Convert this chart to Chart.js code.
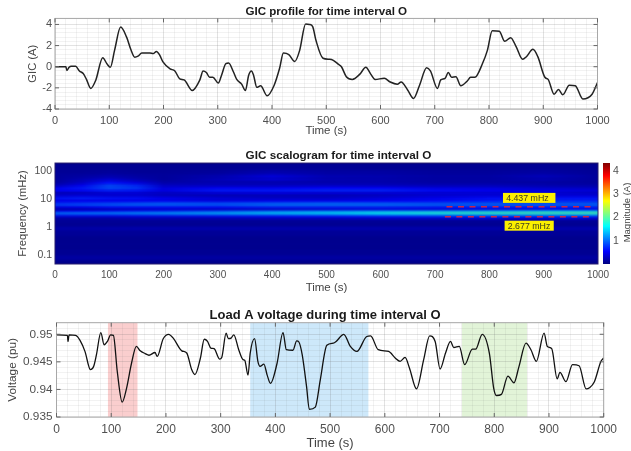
<!DOCTYPE html>
<html><head><meta charset="utf-8">
<style>
html,body{margin:0;padding:0;background:#fff;width:631px;height:451px;overflow:hidden}
canvas{position:absolute;display:block;filter:blur(0.5px)}
</style>
<script src="https://cdn.jsdelivr.net/npm/chart.js@4/dist/chart.umd.js"></script>
</head><body>
<canvas id="gic" width="631" height="140" style="left:0px;top:0px"></canvas>
<canvas id="scal" width="631" height="155" style="left:0px;top:140px"></canvas>
<canvas id="cbar" width="35" height="155" style="left:596px;top:140px"></canvas>
<canvas id="volt" width="631" height="156" style="left:0px;top:295px"></canvas>
<script>
const gicTimes=[0,20,22,26,30,38,45,52,58,66,75,88,96,102,110,121,132,140,147,153,160,175,181,187,193,199,212,221,230,238,253,267,273,279,285,291,301,307,315,320,329,335,344,351,357,362,366,372,379,391,404,414,421,431,442,451,462,469,475,481,494,506,513,522,528,537,548,562,573,582,590,607,618,631,638,650,661,672,685,692,705,711,719,725,731,739,748,760,766,774,788,797,806,819,829,840,850,862,869,881,890,903,909,920,928,936,948,959,973,990,1000];
const gicValues=[0,0,-0.35,-0.05,0.05,0.05,-0.4,-0.65,-1.2,-2.05,-1.3,0.85,0.25,-0.05,1.6,3.75,2.8,1.6,0.9,1.0,1.3,1.3,1.25,1.45,1.1,0.45,-0.2,-0.4,-1.15,-1.25,-2.25,-1.25,-0.4,-0.55,-1.0,-1.0,-1.55,-0.8,0.3,0.35,-0.5,-1.2,-1.65,-2.25,-0.8,-0.4,-0.8,-1.95,-1.8,-2.75,-1.75,-0.15,1.3,1.15,0.5,1.55,4.05,4.0,3.8,2.5,0.8,0.7,0.6,0.25,0,-0.95,-1.2,-0.7,-0.05,-0.7,-1.2,-1.1,-1.45,-1.65,-1.45,-2.2,-3.0,-1.75,-0.1,-0.4,-2.05,-1.25,-1.1,-0.55,-1.0,-0.95,-1.8,-1.35,-1.0,-1.0,0.3,1.55,3.4,3.35,2.4,2.75,1.9,0.7,0.95,1.65,0.95,-1.0,-1.2,-2.6,-2.15,-2.65,-1.75,-1.8,-3.05,-2.6,-1.5];

const voltageTimes=[0,20,21,23,35,43,52,62,68,73,81,87,93,99,104,111,120,128,137,146,153,162,169,180,184,195,205,214,229,238,247,253,263,270,276,282,288,298,302,310,314,319,324,333,341,344,350,354,362,368,372,379,385,391,403,414,420,432,439,443,449,457,462,473,482,494,506,511,525,537,549,567,574,588,607,619,628,637,645,658,671,682,692,701,711,720,726,736,746,760,766,778,791,799,804,813,825,836,845,858,867,877,891,897,905,915,920,931,943,955,968,974,983,995,1000];
const voltageValues=[0.9499,0.9498,0.9487,0.9499,0.9498,0.9489,0.9469,0.9436,0.9442,0.9463,0.9503,0.9481,0.9487,0.9499,0.9498,0.9433,0.9377,0.9402,0.9447,0.9478,0.947,0.9465,0.9462,0.9467,0.946,0.9492,0.95,0.9492,0.947,0.9466,0.9436,0.9427,0.9457,0.9491,0.9487,0.9475,0.9474,0.9455,0.9458,0.9502,0.9492,0.9493,0.9499,0.9472,0.9454,0.9453,0.9426,0.9466,0.9492,0.9451,0.9442,0.9446,0.9426,0.9411,0.9447,0.9503,0.9472,0.9471,0.9488,0.9486,0.9463,0.9405,0.9364,0.9368,0.9417,0.948,0.9484,0.9487,0.95,0.9478,0.9469,0.9496,0.9497,0.9472,0.9469,0.9457,0.9451,0.9458,0.9439,0.9401,0.9454,0.9497,0.9487,0.9437,0.9466,0.9487,0.9476,0.9478,0.9445,0.9473,0.9473,0.95,0.9466,0.9402,0.9389,0.9391,0.9424,0.9412,0.9441,0.9484,0.9472,0.9451,0.9502,0.9478,0.9474,0.9419,0.9431,0.9414,0.9445,0.9443,0.9401,0.9403,0.9414,0.9451,0.9457];

const bandStarts=[94,354,741];
const bandEnds=[148,570,860];
const bandColors=['rgb(250,206,206)','rgb(205,232,250)','rgb(226,244,216)'];

const scalTimes=[0,50,100,150,200,300,400,500,600,700,800,900,1000];
const scalFreqs=[190,130,90,65,50,38,30,25,20,16,13,10.5,8.5,7,6,5,4.2,3.6,3.2,2.9,2.6,2.3,2,1.6,1.2,0.9,0.6,0.35,0.2,0.12,0.08,0.05];
const scalMagnitudes=[
[.05,.05,.06,.06,.05,.06,.08,.08,.06,.06,.06,.08,.05],
[.08,.08,.08,.08,.08,.08,.1,.1,.08,.08,.08,.1,.08],
[.1,.1,.12,.1,.1,.12,.2,.15,.15,.12,.12,.15,.1],
[.12,.15,.2,.15,.12,.2,.38,.22,.2,.15,.15,.25,.12],
[.12,.22,.35,.22,.12,.25,.36,.22,.2,.15,.15,.22,.12],
[.14,.3,.6,.4,.18,.22,.22,.2,.2,.16,.16,.16,.12],
[.25,.5,.85,.7,.3,.28,.28,.3,.28,.25,.25,.2,.18],
[.5,.65,.9,.8,.42,.5,.48,.55,.52,.42,.4,.33,.28],
[.55,.58,.7,.65,.45,.65,.65,.7,.7,.58,.52,.45,.4],
[.25,.28,.38,.38,.3,.38,.42,.38,.38,.38,.38,.38,.3],
[.38,.42,.38,.38,.3,.25,.25,.25,.3,.38,.42,.42,.42],
[.62,.68,.62,.6,.5,.38,.32,.32,.42,.5,.6,.62,.62],
[.5,.5,.5,.5,.5,.42,.48,.48,.52,.58,.65,.7,.7],
[.7,.75,.8,.85,.9,.85,.9,.95,.9,.85,.9,.9,.9],
[.85,.9,.95,1,1,.95,1.05,1.05,1.05,1,1,1,1],
[.45,.5,.6,.6,.6,.6,.7,.7,.7,.65,.7,.7,.7],
[.2,.2,.25,.3,.35,.3,.3,.35,.4,.4,.45,.5,.5],
[.5,.55,.6,.65,.7,.85,1,1.1,1.2,1.25,1.35,1.45,1.45],
[1,1.05,1.1,1.15,1.2,1.3,1.45,1.55,1.7,1.8,1.9,1.95,1.95],
[1.05,1.1,1.1,1.15,1.2,1.3,1.4,1.45,1.6,1.7,1.8,1.85,1.85],
[.7,.7,.7,.75,.8,.85,.9,1,1.1,1.15,1.2,1.25,1.25],
[.35,.35,.35,.4,.4,.45,.5,.55,.6,.65,.7,.7,.7],
[.15,.15,.15,.2,.2,.2,.25,.25,.3,.3,.35,.35,.35],
[.1,.1,.1,.1,.1,.1,.1,.1,.1,.1,.1,.1,.1],
[.08,.08,.08,.08,.08,.08,.08,.08,.08,.08,.08,.08,.08],
[.16,.16,.17,.18,.18,.18,.18,.18,.18,.18,.18,.18,.18],
[.1,.1,.1,.1,.1,.1,.1,.1,.1,.1,.1,.1,.1],
[.06,.06,.06,.06,.06,.06,.06,.06,.06,.06,.06,.06,.06],
[.06,.06,.06,.06,.06,.06,.06,.06,.06,.06,.06,.06,.06],
[.08,.08,.08,.08,.08,.08,.08,.08,.08,.08,.08,.08,.08],
[.14,.14,.14,.14,.14,.14,.14,.14,.14,.14,.14,.14,.14],
[.05,.05,.05,.05,.05,.05,.05,.05,.05,.05,.05,.05,.05]
];
const magnitudeMax=4.33;
const cutoffLabels=['4.437 mHz','2.677 mHz'];

const FONT='"Liberation Sans",Arial,sans-serif';
const TICK='#505050', AXT='#444';
const GRID_MAJOR='rgba(110,110,110,0.2)', GRID_MINOR='rgba(110,110,110,0.09)';
function jet(f){
  f=Math.max(0,Math.min(1,f));
  const c=(a)=>Math.round(255*Math.max(0,Math.min(1,1.5-Math.abs(4*f-a))));
  return `rgb(${c(3)},${c(2)},${c(1)})`;
}
const near=(v,m)=>Math.abs(v/m-Math.round(v/m))<1e-6;

const centerTitle={id:'centerTitle',afterLayout(c,a,o){
  const d=o.shift||0;
  if(c.titleBlock){c.titleBlock.left=c.chartArea.left+d;c.titleBlock.right=c.chartArea.right+d;}
}};
const frame={id:'frame',afterDatasetsDraw(c,a,o){
  if(!o.color)return;
  const {left,right,top,bottom}=c.chartArea,x=c.ctx,sx=c.scales.x,sy=c.scales.y;
  x.save();x.strokeStyle=o.color;x.lineWidth=1;
  x.strokeRect(left+.0,top+.0,right-left,bottom-top);
  x.strokeStyle=o.tick;
  sx.ticks.forEach(t=>{if(near(t.value,100)){const p=sx.getPixelForValue(t.value);
    x.beginPath();x.moveTo(p,bottom);x.lineTo(p,bottom-4);x.moveTo(p,top);x.lineTo(p,top+4);x.stroke();}});
  sy.ticks.forEach(t=>{if(near(t.value,o.ymajor)){const p=sy.getPixelForValue(t.value);
    x.beginPath();x.moveTo(left,p);x.lineTo(left+4,p);x.moveTo(right,p);x.lineTo(right-4,p);x.stroke();}});
  x.restore();
}};
const bandsPlugin={id:'bands',beforeDraw(c,a,o){
  if(!o.starts)return;
  const {top,bottom}=c.chartArea,sx=c.scales.x,x=c.ctx;
  x.save();
  o.starts.forEach((s,i)=>{const p0=sx.getPixelForValue(s),p1=sx.getPixelForValue(o.ends[i]);
    x.fillStyle=o.colors[i];x.fillRect(p0,top,p1-p0,bottom-top);});
  x.restore();
}};
function xAxis(h,font,tickPad,titleFont,titleBottom,grid){
  return {type:'linear',min:0,max:1000,
    ticks:{stepSize:grid?20:100,autoSkip:false,maxRotation:0,padding:tickPad,color:TICK,font:{family:FONT,size:font},
      callback:v=>near(v,100)?String(Math.round(v)):''},
    grid:grid?{drawTicks:false,color:g=>near(g.tick.value,100)?GRID_MAJOR:GRID_MINOR,lineWidth:1}:{display:false,drawTicks:false},
    border:{display:false},
    title:{display:true,text:'Time (s)',color:AXT,font:{family:FONT,size:titleFont},padding:{top:0,bottom:titleBottom}},
    afterFit(s){s.height=h;}};
}

new Chart(document.getElementById('gic'),{
  type:'line',
  data:{datasets:[{data:gicTimes.map((t,i)=>({x:t,y:gicValues[i]})),borderColor:'#222',borderWidth:1.5,pointRadius:0,cubicInterpolationMode:'monotone'}]},
  options:{responsive:false,animation:false,
    layout:{padding:{left:0,right:33.5,top:0,bottom:0}},
    plugins:{legend:{display:false},tooltip:{enabled:false},
      title:{display:true,text:'GIC profile for time interval O',color:'#1a1a1a',font:{family:FONT,size:11.6,weight:'bold'},padding:{top:4.5,bottom:0}},
      frame:{color:'#a8a8a8',tick:'#666',ymajor:2}},
    scales:{x:xAxis(31,11,5,11.5,2,true),
      y:{type:'linear',min:-4,max:4.57,
        ticks:{stepSize:0.4,autoSkip:false,padding:3,color:TICK,font:{family:FONT,size:11},callback:v=>near(v,2)?String(Math.round(v)):''},
        grid:{drawTicks:false,color:g=>near(g.tick.value,2)?GRID_MAJOR:GRID_MINOR},
        border:{display:false},
        title:{display:true,text:'GIC (A)',color:AXT,font:{family:FONT,size:11.2},padding:{top:26,bottom:0}},
        afterFit(s){s.width=55;}}}
  },plugins:[centerTitle,frame]});

const heatPlugin={id:'heat',beforeDatasetsDraw(c){
  const {left,right,top,bottom}=c.chartArea,sx=c.scales.x,sy=c.scales.y,x=c.ctx;
  x.save();x.beginPath();x.rect(left,top,right-left,bottom-top);x.clip();
  x.fillStyle=jet(0.02);x.fillRect(left,top,right-left,bottom-top);
  x.filter='blur(1px)';
  const ys=scalFreqs.map(f=>sy.getPixelForValue(f));
  const span=sx.getPixelForValue(scalTimes[scalTimes.length-1])-sx.getPixelForValue(scalTimes[0]);
  scalFreqs.forEach((f,i)=>{
    const y0=i?(ys[i-1]+ys[i])/2:top-6, y1=i<ys.length-1?(ys[i]+ys[i+1])/2:bottom+6;
    const g=x.createLinearGradient(left,0,right,0);
    scalTimes.forEach((t,j)=>g.addColorStop((sx.getPixelForValue(t)-left)/span,jet(scalMagnitudes[i][j]/magnitudeMax)));
    x.fillStyle=g;x.fillRect(left-6,y0,right-left+12,y1-y0+.6);
  });
  x.filter='none';x.restore();
},afterDatasetsDraw(c){
  const {left,right,top,bottom}=c.chartArea,sx=c.scales.x,sy=c.scales.y,x=c.ctx;
  x.save();
  x.strokeStyle='rgb(40,30,110)';x.lineWidth=1;x.strokeRect(left,top,right-left,bottom-top);
  x.strokeStyle='rgb(205,35,70)';x.lineWidth=1.6;x.setLineDash([6,5.5]);
  [[721,991,5.3],[718,986,2.33]].forEach(l=>{const p=sy.getPixelForValue(l[2]);
    x.beginPath();x.moveTo(sx.getPixelForValue(l[0]),p);x.lineTo(sx.getPixelForValue(l[1]),p);x.stroke();});
  x.setLineDash([]);
  x.font='8.8px '+FONT;x.textAlign='center';x.textBaseline='middle';
  [[825,921.6,10.99,870,cutoffLabels[0]],[828,918.5,1.12,873,cutoffLabels[1]]].forEach(b=>{
    const p0=sx.getPixelForValue(b[0]),p1=sx.getPixelForValue(b[1]),p=sy.getPixelForValue(b[2]);
    x.fillStyle='rgb(252,240,0)';x.fillRect(p0,p-5,p1-p0,10);
    x.fillStyle='#3c3c20';x.fillText(b[4],sx.getPixelForValue(b[3]),p+.5);
  });
  x.restore();
}};
new Chart(document.getElementById('scal'),{
  type:'scatter',
  data:{datasets:[{data:scalFreqs.flatMap((f,i)=>scalTimes.map((t,j)=>({x:t,y:f,v:scalMagnitudes[i][j]}))),pointRadius:0}]},
  options:{responsive:false,animation:false,
    layout:{padding:{left:0,right:33,top:0,bottom:0}},
    plugins:{legend:{display:false},tooltip:{enabled:false},
      centerTitle:{shift:12},
      title:{display:true,text:'GIC scalogram for time interval O',color:'#1a1a1a',font:{family:FONT,size:11.7,weight:'bold'},padding:{top:8.5,bottom:0.5}}},
    scales:{x:xAxis(31,10,5,11.5,0,false),
      y:{type:'logarithmic',min:0.048,max:193,
        ticks:{autoSkip:false,padding:3,color:TICK,font:{family:FONT,size:10.5},
          callback:v=>{const l=Math.log10(v);return Math.abs(l-Math.round(l))<1e-6?String(+v.toPrecision(1)):'';}},
        grid:{display:false,drawTicks:false},border:{display:false},
        title:{display:true,text:'Frequency (mHz)',color:AXT,font:{family:FONT,size:11.2},padding:{top:16,bottom:0}},
        afterFit(s){s.width=55;}}}
  },plugins:[centerTitle,heatPlugin]});

const cbarLabel={id:'cbarLabel',afterDraw(c){
  const x=c.ctx,a=c.chartArea;
  x.save();x.translate(31,(a.top+a.bottom)/2-1);x.rotate(-Math.PI/2);
  x.font='9.5px '+FONT;x.fillStyle=AXT;x.textAlign='center';x.textBaseline='middle';
  x.fillText('Magnitude (A)',0,0);x.restore();
}};
new Chart(document.getElementById('cbar'),{
  type:'bar',
  data:{labels:[''],datasets:[{data:[[0,magnitudeMax]],barPercentage:1,categoryPercentage:1,
    backgroundColor(ctx){const a=ctx.chart.chartArea;if(!a)return '#00f';
      const g=ctx.chart.ctx.createLinearGradient(0,a.bottom,0,a.top);
      for(let i=0;i<=16;i++)g.addColorStop(i/16,jet(i/16));return g;}}]},
  options:{responsive:false,animation:false,
    layout:{padding:{left:7,right:0,top:23,bottom:31}},
    plugins:{legend:{display:false},tooltip:{enabled:false}},
    scales:{x:{display:false},
      y:{position:'right',min:0,max:magnitudeMax,
        ticks:{stepSize:1,includeBounds:false,autoSkip:false,padding:3,color:TICK,font:{family:FONT,size:10.5},callback:v=>v===0?'':String(v)},
        grid:{display:false,drawTicks:false},border:{display:false},
        afterFit(s){s.width=21;}}}
  },plugins:[cbarLabel]});

new Chart(document.getElementById('volt'),{
  type:'line',
  data:{datasets:[{data:voltageTimes.map((t,i)=>({x:t,y:voltageValues[i]})),borderColor:'#111',borderWidth:1.3,pointRadius:0,cubicInterpolationMode:'monotone'}]},
  options:{responsive:false,animation:false,
    layout:{padding:{left:0,right:27.3,top:0,bottom:0}},
    plugins:{legend:{display:false},tooltip:{enabled:false},
      centerTitle:{shift:-5},
      title:{display:true,text:'Load A voltage during time interval O',color:'#1a1a1a',font:{family:FONT,size:13,weight:'bold'},padding:{top:12.5,bottom:-0.4}},
      bands:{starts:bandStarts,ends:bandEnds,colors:bandColors},
      frame:{color:'#a8a8a8',tick:'#666',ymajor:0.005}},
    scales:{x:xAxis(34,12,5,13,0,true),
      y:{type:'linear',min:0.935,max:0.9521,
        ticks:{stepSize:0.001,autoSkip:false,padding:4,color:TICK,font:{family:FONT,size:11.8},
          callback:v=>near(v,0.005)?String(+v.toFixed(3)):''},
        grid:{drawTicks:false,color:g=>near(g.tick.value,0.005)?GRID_MAJOR:GRID_MINOR},
        border:{display:false},
        title:{display:true,text:'Voltage (pu)',color:AXT,font:{family:FONT,size:11.8},padding:{top:6,bottom:0}},
        afterFit(s){s.width=56.5;}}}
  },plugins:[centerTitle,frame,bandsPlugin]});
</script>
</body></html>
